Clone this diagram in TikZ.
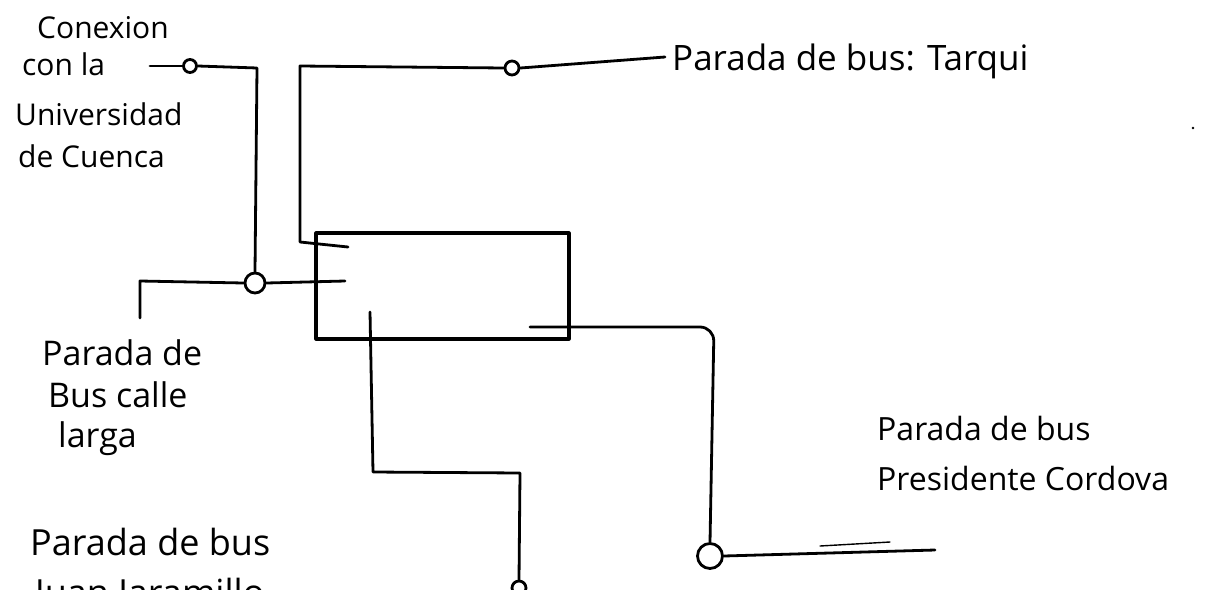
\documentclass[tikz,border=0pt]{standalone}
\usepackage{fontspec}
\setmainfont{Open Sans}
\begin{document}
\begin{tikzpicture}[x=1pt,y=-1pt,line cap=round,line join=round,
  wire/.style={line width=2.8pt,black},
  stopmark/.style={circle,draw,line width=2.8pt,inner sep=0pt,minimum size=#1},
  lbl/.style={font=\fontsize{#1}{#1}\selectfont,anchor=base west,inner sep=0pt},
  lbl/.default=30]
\clip (0,0) rectangle (1214,589);
\fill[white] (0,0) rectangle (1214,589);
% stops
\node[stopmark=13pt] (cu) at (190,66) {};
\node[stopmark=20pt] (cl) at (255,283) {};
\node[stopmark=14pt] (ta) at (512,68) {};
\node[stopmark=25pt] (pc) at (710,556) {};
\node[stopmark=14pt] (jj) at (519,588) {};
% central block
\node[draw,line width=3.2pt,minimum width=253pt,minimum height=106pt,inner sep=0pt] (hub) at (442.5,286) {};
% coordinates
\coordinate (cuL) at (150,66);
\coordinate (cuC) at (257,68);
\coordinate (taA) at (348,247);
\coordinate (taB) at (300,242);
\coordinate (taC) at (300,66);
\coordinate (taE) at (665,57);
\coordinate (clA) at (140,281);
\coordinate (clB) at (140,318);
\coordinate (clE) at (345,281);
\coordinate (jjA) at (370,312);
\coordinate (jjB) at (373,472);
\coordinate (jjC) at (520,473);
\coordinate (pcA) at (530,327);
\coordinate (pcB) at (714,327);
\coordinate (pcE) at (935,550);
\coordinate (pcS1) at (820,546);
\coordinate (pcS2) at (890,542);
% connectors
\draw[wire] (cuL) -- (cu.west);
\draw[wire] (cu.east) -- (cuC) -- (cl.north);
\draw[wire] (taA) -- (taB) -- (taC) -- (ta.west);
\draw[wire] (ta.east) -- (taE);
\draw[wire] (clB) -- (clA) -- (cl.west);
\draw[wire] (cl.east) -- (clE);
\draw[wire] (jjA) -- (jjB) -- (jjC) -- (jj.north);
\draw[wire,rounded corners=14pt] (pcA) -- (pcB) -- (pc.north);
\draw[wire] (pc.east) -- (pcE);
\draw[line width=1.4pt] (pcS1) -- (pcS2);
\fill (1193,128) circle (1.4pt);
% labels
\node[lbl=30] (t1) at (37,38) {Conexion};
\node[lbl=30] (t2) at (22,75) {con la};
\node[lbl=30] (t3) at (15,125) {Universidad};
\node[lbl=30] (t4) at (18,167) {de Cuenca};
\node[lbl=35] (t5) at (672,70) {Parada de bus: Tarqui};
\node[lbl=34] (t6) at (42,365) {Parada de};
\node[lbl=34] (t7) at (48,407) {Bus calle};
\node[lbl=34] (t8) at (58,447) {larga};
\node[lbl=32] (t9) at (877,440) {Parada de bus};
\node[lbl=32] (t10) at (877,490) {Presidente Cordova};
\node[lbl=36] (t11) at (30,555) {Parada de bus};
\node[lbl=36] (t12) at (35,605) {Juan Jaramillo};
\end{tikzpicture}
\end{document}
